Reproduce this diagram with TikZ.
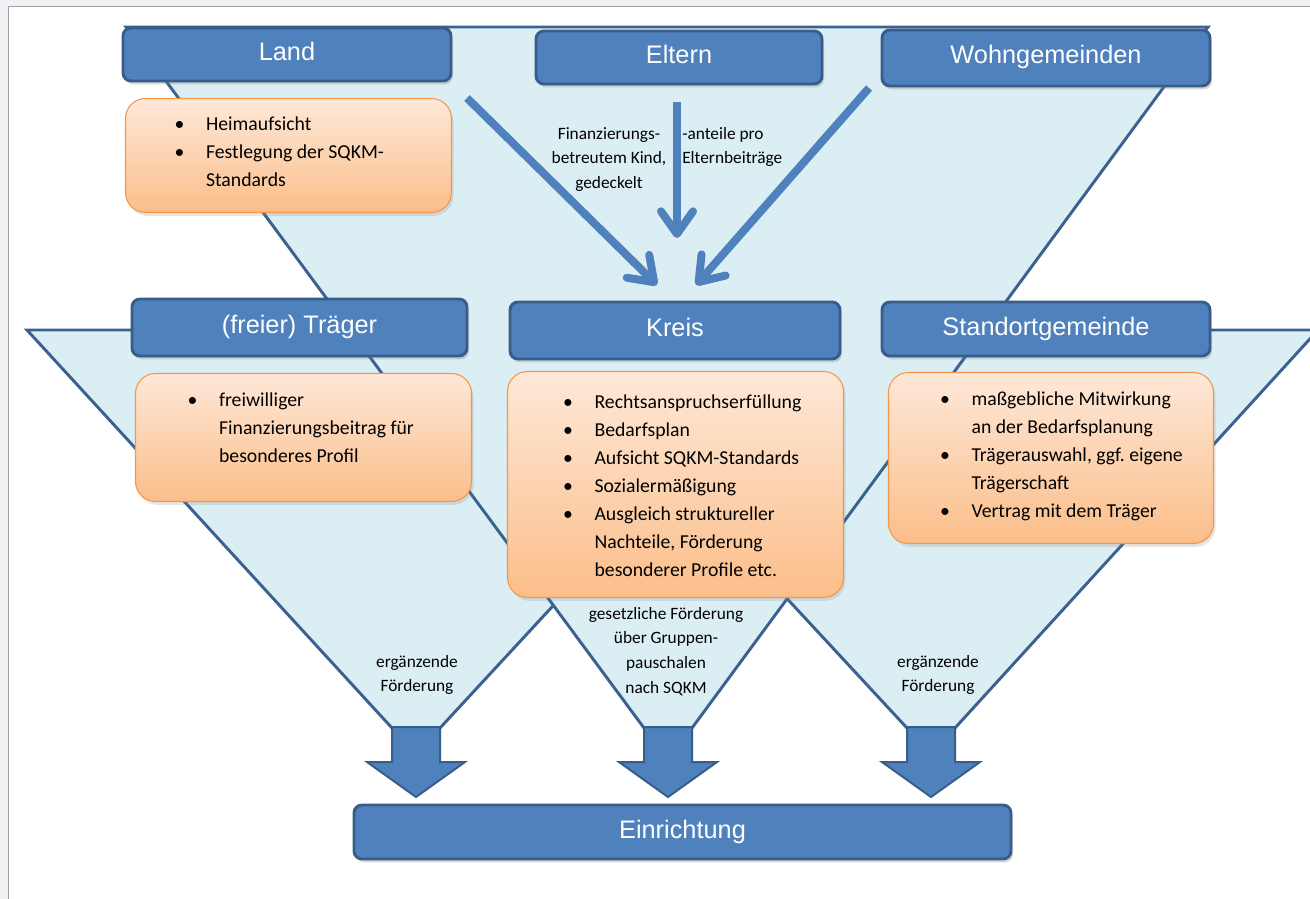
\documentclass[tikz,border=0pt]{standalone}
\usepackage{fontspec}
\setmainfont{Carlito}
\newfontfamily\hdrfont{Liberation Sans}
\usetikzlibrary{calc,arrows.meta,shadows}
\definecolor{hdrfill}{HTML}{4F81BD}
\definecolor{hdrline}{HTML}{385D8A}
\definecolor{funnelfill}{HTML}{DBEEF4}
\definecolor{funnelline}{HTML}{3A6190}
\definecolor{tasktop}{HTML}{FEE8D8}
\definecolor{taskbot}{HTML}{FBBE8A}
\definecolor{taskline}{HTML}{F79646}
\definecolor{outerbg}{HTML}{F0F1F5}
\definecolor{framegray}{HTML}{A0A0A0}
\def\itm{\makebox[23.5pt][l]{\textbullet}}
\frenchspacing

\begin{document}
\begin{tikzpicture}[x=0.75pt,y=-0.75pt]
\tikzstyle{hdr}=[draw=hdrline, line width=2.2pt, fill=hdrfill, rounded corners=6pt, text=white, font=\hdrfont\fontsize{19}{22}\selectfont, text height=13pt, text depth=4pt, drop shadow={shadow xshift=1.5pt,shadow yshift=-2.5pt,opacity=.3}]
\tikzstyle{tasks}=[draw=taskline, line width=.8pt, top color=tasktop, bottom color=taskbot, rounded corners=15pt, drop shadow={shadow xshift=1.5pt,shadow yshift=-2.5pt,opacity=.2}]
\tikzstyle{tasktext}=[anchor=base west, inner sep=0pt, font=\fontsize{14.8}{21}\selectfont]
\tikzstyle{lbl}=[anchor=base, inner sep=0pt, font=\fontsize{13}{18.5}\selectfont]
\tikzstyle{funnel}=[draw=funnelline, line width=2.2pt, fill=funnelfill]
\tikzstyle{blockarrow}=[draw=hdrline, line width=1.5pt, fill=hdrfill]
\tikzstyle{flow}=[draw=hdrfill, line width=6pt, -{Straight Barb[length=17pt,width=24pt,round]}]

% page and frame
\useasboundingbox (0,0) rectangle (1310,899);
\fill[outerbg] (0,0) rectangle (1310,899);
\fill[white] (8.5,6.5) rectangle (1310,899);
\draw[framegray, line width=.75pt] (8.5,899) -- (8.5,6.5) -- (1310,6.5);
\clip (0,0) rectangle (1310,899);

% funnels: Traeger, Standortgemeinde, then the big one on top
\draw[funnel] (27,330) -- (808,330) -- (440,728) -- (392,728) -- cycle;
\draw[funnel] (538,330) -- (1318,330) -- (955,728) -- (907,728) -- cycle;
\draw[funnel] (126,27) -- (1208,27) -- (692,728) -- (644,728) -- cycle;

% block arrows down to the Einrichtung
\foreach \cx in {416,668,931}
  \draw[blockarrow] (\cx-24,727) -- ++(48,0) -- ++(0,35) -- ++(25,0) -- (\cx,797) -- (\cx-49,762) -- ++(25,0) -- cycle;

% Land, Eltern, Wohngemeinden
\node[hdr, minimum width=246pt, minimum height=39.75pt] (Land) at (287,54.5) {Land};
\node[hdr, minimum width=214.5pt, minimum height=39.75pt] (Eltern) at (679,57.5) {Eltern};
\node[hdr, minimum width=246pt, minimum height=42pt] (Wohn) at (1046,58) {Wohngemeinden};

\node[tasks, minimum width=244.5pt, minimum height=85.5pt] (landtasks) at (288.5,155.5) {};
\node[tasktext] (landtext) at ($(landtasks.north west)+(49.5,33)$) {\begin{tabular}[t]{@{}l@{}l@{}}
\itm & Heimaufsicht\\
\itm & Festlegung der SQKM-\\
 & Standards
\end{tabular}};

% Traeger, Kreis, Standortgemeinde
\node[hdr, minimum width=251.25pt, minimum height=42.75pt] (Traeger) at (299.5,327.5) {(freier) Träger};
\node[hdr, minimum width=247.5pt, minimum height=42.75pt] (Kreis) at (675,330.5) {Kreis};
\node[hdr, minimum width=246pt, minimum height=40.5pt] (Standort) at (1046,329) {Standortgemeinde};

\node[tasks, minimum width=252pt, minimum height=96pt] (traegertasks) at (303.5,437.5) {};
\node[tasktext] (traegertext) at ($(traegertasks.north west)+(52.5,34)$) {\begin{tabular}[t]{@{}l@{}l@{}}
\itm & freiwilliger\\
 & Finanzierungsbeitrag für\\
 & besonderes Profil
\end{tabular}};

\node[tasks, minimum width=252pt, minimum height=169.5pt] (kreistasks) at (675.5,484.5) {};
\node[tasktext] (kreistext) at ($(kreistasks.north west)+(56,38)$) {\begin{tabular}[t]{@{}l@{}l@{}}
\itm & Rechtsanspruchserfüllung\\
\itm & Bedarfsplan\\
\itm & Aufsicht SQKM-Standards\\
\itm & Sozialermäßigung\\
\itm & Ausgleich struktureller\\
 & Nachteile, Förderung\\
 & besonderer Profile etc.
\end{tabular}};

\node[tasks, minimum width=243.75pt, minimum height=128.25pt] (standorttasks) at (1051,458) {};
\node[tasktext] (standorttext) at ($(standorttasks.north west)+(52,34)$) {\begin{tabular}[t]{@{}l@{}l@{}}
\itm & maßgebliche Mitwirkung\\
 & an der Bedarfsplanung\\
\itm & Trägerauswahl, ggf. eigene\\
 & Trägerschaft\\
\itm & Vertrag mit dem Träger
\end{tabular}};

% Einrichtung
\node[hdr, minimum width=492.75pt, minimum height=40.5pt] (Einrichtung) at (682.5,832) {Einrichtung};

% labels on the funnels
\node[lbl] (finlbl) at (609,139) {\begin{tabular}[t]{@{}c@{}}Finanzierungs-\\betreutem Kind,\\gedeckelt\end{tabular}};
\node[lbl, anchor=base west] (elternlbl) at (682,139) {\begin{tabular}[t]{@{}l@{}}-anteile pro\\Elternbeiträge\end{tabular}};
\node[lbl] (gesetzlbl) at (666,619) {\begin{tabular}[t]{@{}c@{}}gesetzliche Förderung\\über Gruppen-\\pauschalen\\nach SQKM\end{tabular}};
\node[lbl] (ergleft) at (417,667) {\begin{tabular}[t]{@{}c@{}}ergänzende\\Förderung\end{tabular}};
\node[lbl] (ergright) at (938,667) {\begin{tabular}[t]{@{}c@{}}ergänzende\\Förderung\end{tabular}};

% money flows into the Kreis
\coordinate (landout) at (467,98);
\coordinate (elternout) at (677,102);
\coordinate (wohnout) at (869,88);
\coordinate (kreisinL) at (657,285);
\coordinate (kreisinM) at (677,238);
\coordinate (kreisinR) at (696,285);
\draw[flow] (landout) -- (kreisinL);
\draw[flow] (elternout) -- (kreisinM);
\draw[flow] (wohnout) -- (kreisinR);

\end{tikzpicture}
\end{document}
